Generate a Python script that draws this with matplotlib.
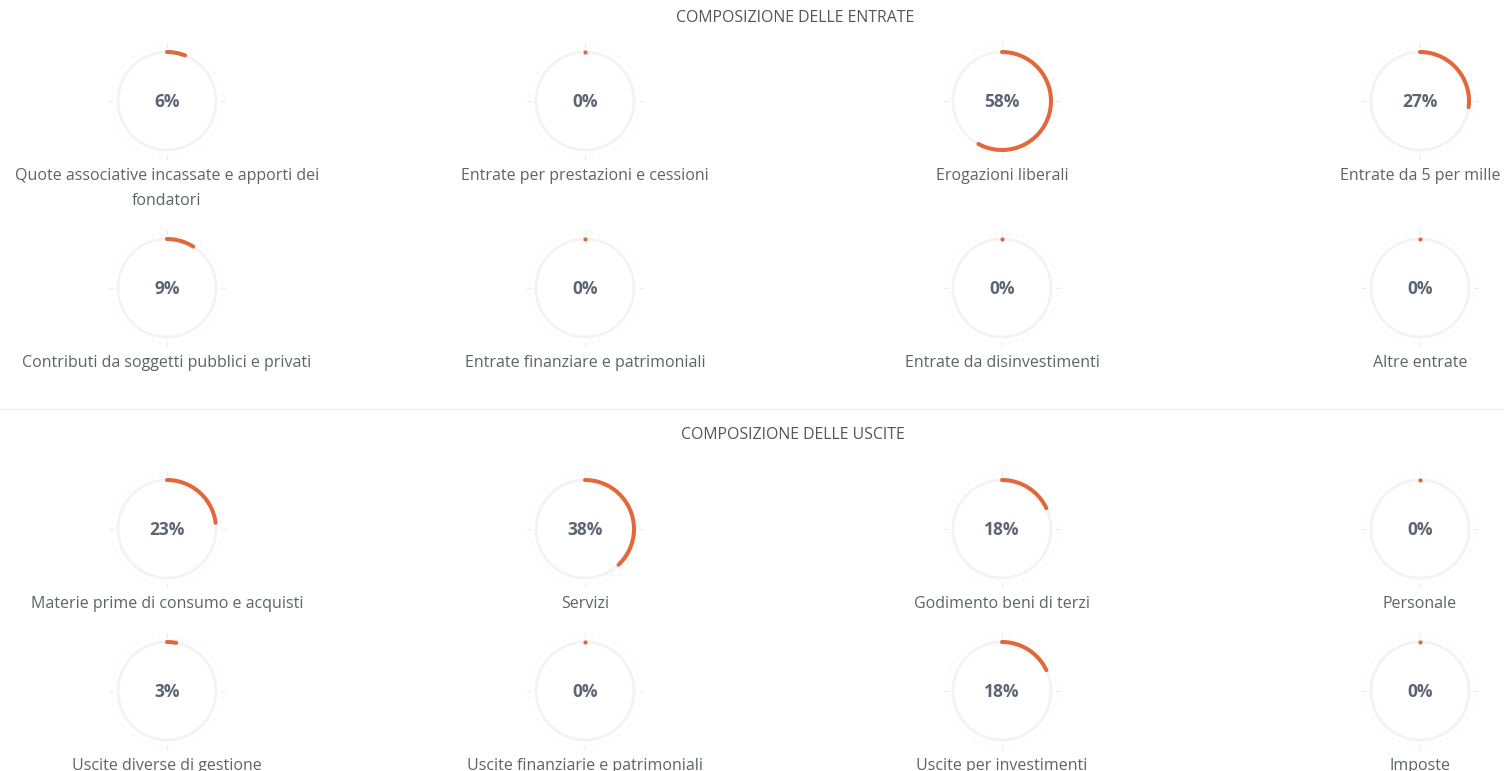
import numpy as np
import matplotlib.pyplot as plt

# dati
entrate_labels = [
    "Quote associative incassate e apporti dei\nfondatori",
    "Entrate per prestazioni e cessioni",
    "Erogazioni liberali",
    "Entrate da 5 per mille",
    "Contributi da soggetti pubblici e privati",
    "Entrate finanziare e patrimoniali",
    "Entrate da disinvestimenti",
    "Altre entrate",
]
entrate_pct = [6, 0, 58, 27, 9, 0, 0, 0]

uscite_labels = [
    "Materie prime di consumo e acquisti",
    "Servizi",
    "Godimento beni di terzi",
    "Personale",
    "Uscite diverse di gestione",
    "Uscite finanziarie e patrimoniali",
    "Uscite per investimenti",
    "Imposte",
]
uscite_pct = [23, 38, 18, 0, 3, 0, 18, 0]

titles = ["COMPOSIZIONE DELLE ENTRATE", "COMPOSIZIONE DELLE USCITE"]

ORANGE = '#e2673a'
TRACK = '#f3f3f3'
NUM_COL = '#5b6573'
LAB_COL = '#5f6369'
FONT = ['Open Sans', 'DejaVu Sans']

W, H = 1504, 771
fig = plt.figure(figsize=(W / 100, H / 100), dpi=100)
fig.patch.set_facecolor('white')
ax = fig.add_axes([0, 0, 1, 1])
ax.set_xlim(0, W)
ax.set_ylim(H, 0)
ax.axis('off')

col_x = [167, 585, 1002, 1420]
row_y = [101, 288, 529, 691]
R = 49


def gauge(cx, cy, pct, label):
    t = np.linspace(0, 2 * np.pi, 300)
    ax.plot(cx + R * np.sin(t), cy - R * np.cos(t), color=TRACK, lw=2.0, zorder=1)
    # tacche leggere attorno al cerchio
    for k in range(48):
        a = 2 * np.pi * k / 48
        major = k % 12 == 0
        r0, r1 = (R + 5, R + 9) if major else (R + 5, R + 7)
        ax.plot([cx + r0 * np.sin(a), cx + r1 * np.sin(a)],
                [cy - r0 * np.cos(a), cy - r1 * np.cos(a)],
                color='#ebebeb' if major else '#f6f6f6', lw=0.7, zorder=1)
    if pct > 0:
        t = np.linspace(0, 2 * np.pi * pct / 100, 200)
        ax.plot(cx + R * np.sin(t), cy - R * np.cos(t), color=ORANGE, lw=2.9,
                solid_capstyle='round', zorder=2)
    else:
        ax.plot([cx], [cy - R], 'o', color=ORANGE, ms=3, mew=0, zorder=2)
    ax.text(cx, cy + 1, f"{pct}%", ha='center', va='center', fontsize=12.5,
            fontweight='bold', color=NUM_COL, family=FONT)
    ax.text(cx, cy + 67, label, ha='center', va='top', fontsize=11.5,
            color=LAB_COL, family=FONT, linespacing=1.75)


for i, (lab, p) in enumerate(zip(entrate_labels, entrate_pct)):
    gauge(col_x[i % 4], row_y[i // 4], p, lab)
for i, (lab, p) in enumerate(zip(uscite_labels, uscite_pct)):
    gauge(col_x[i % 4], row_y[2 + i // 4], p, lab)

ax.text(795, 18, titles[0], ha='center', va='center', fontsize=11.4,
        color='#555555', family=FONT)
ax.text(793, 435, titles[1], ha='center', va='center', fontsize=11.4,
        color='#555555', family=FONT)
ax.plot([0, W], [409, 409], color='#ececec', lw=1)

fig.savefig('out.png', dpi=100, facecolor='white')
